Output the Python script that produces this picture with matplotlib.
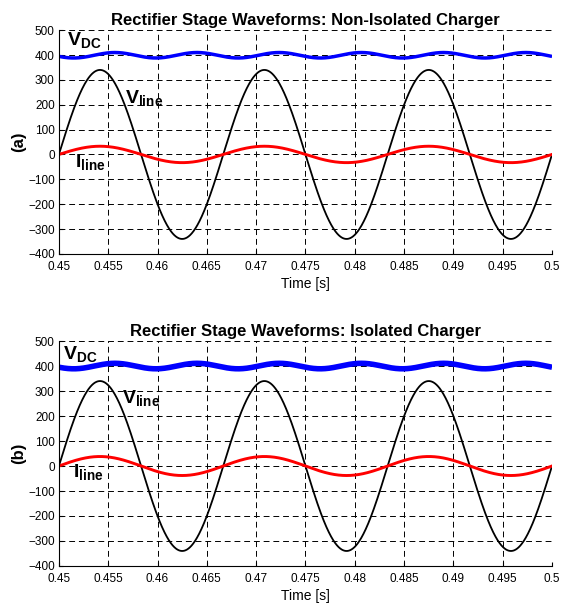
import numpy as np
import matplotlib.pyplot as plt

plt.rcParams['font.family'] = ['Liberation Sans', 'DejaVu Sans']
plt.rcParams['mathtext.fontset'] = 'custom'
plt.rcParams['mathtext.rm'] = 'Liberation Sans'
plt.rcParams['mathtext.bf'] = 'Liberation Sans:bold'

# values (sinusoidal waveforms described by their parameters)
titles = ['Rectifier Stage Waveforms: Non-Isolated Charger',
          'Rectifier Stage Waveforms: Isolated Charger']
panel_labels = ['(a)', '(b)']
line_freq = 60.0              # Hz
vline_peak = [340, 340]       # V
iline_peak = [33, 38]         # A
vdc_mean = [399, 400]         # V
vdc_ripple = [11, 11]         # V, 120 Hz ripple amplitude
vdc_trough = [0.4515, 0.4515] # s, time of a ripple minimum
vdc_width = [2.5, 4.0]        # band thickness (switching noise)

# label positions (data coords)
vdc_pos = [(0.4508, 440), (0.4504, 427)]
vline_pos = [(0.4567, 208), (0.4564, 252)]
iline_pos = [(0.4516, -50), (0.4514, -44)]

xticks = [0.45, 0.455, 0.46, 0.465, 0.47, 0.475, 0.48, 0.485, 0.49, 0.495, 0.5]
xticklabels = ['0.45', '0.455', '0.46', '0.465', '0.47', '0.475', '0.48', '0.485', '0.49', '0.495', '0.5']
yticks = list(range(-400, 501, 100))

t = np.linspace(0.45, 0.5, 3001)

fig = plt.figure(figsize=(5.61, 6.03), dpi=100)
positions = [[0.105, 0.579, 0.879, 0.371], [0.105, 0.0614, 0.879, 0.373]]

for i in range(2):
    ax = fig.add_axes(positions[i])
    w = 2 * np.pi * line_freq
    vline = vline_peak[i] * np.sin(w * t)
    iline = iline_peak[i] * np.sin(w * t)
    vdc = vdc_mean[i] - vdc_ripple[i] * np.cos(2 * w * (t - vdc_trough[i]))

    ax.plot(t, vdc, color='#0000ff', lw=vdc_width[i], solid_capstyle='butt')
    ax.plot(t, vline, color='black', lw=1.3)
    ax.plot(t, iline, color='#ff0000', lw=2.1)

    ax.set_xlim(0.45, 0.5)
    ax.set_ylim(-400, 500)
    ax.set_xticks(xticks)
    ax.set_xticklabels(xticklabels)
    ax.set_yticks(yticks)
    ax.grid(True, color='black', linestyle=(0, (6, 4)), lw=0.7)
    ax.tick_params(direction='in', length=3, labelsize=8.5)
    ax.tick_params(axis='x', pad=5)
    ax.tick_params(axis='y', pad=3)
    for s in ['top', 'right']:
        ax.spines[s].set_visible(False)
    ax.set_title(titles[i], fontsize=12, fontweight='bold', pad=4)
    ax.set_xlabel('Time [s]', fontsize=10, labelpad=3)
    ax.set_ylabel(panel_labels[i], fontsize=12, fontweight='bold', labelpad=1)

    ax.text(*vdc_pos[i], r'$\mathbf{V_{DC}}$', fontsize=14)
    ax.text(*vline_pos[i], r'$\mathbf{V_{line}}$', fontsize=14)
    ax.text(*iline_pos[i], r'$\mathbf{I_{line}}$', fontsize=14)

fig.savefig('out.png', dpi=100)
